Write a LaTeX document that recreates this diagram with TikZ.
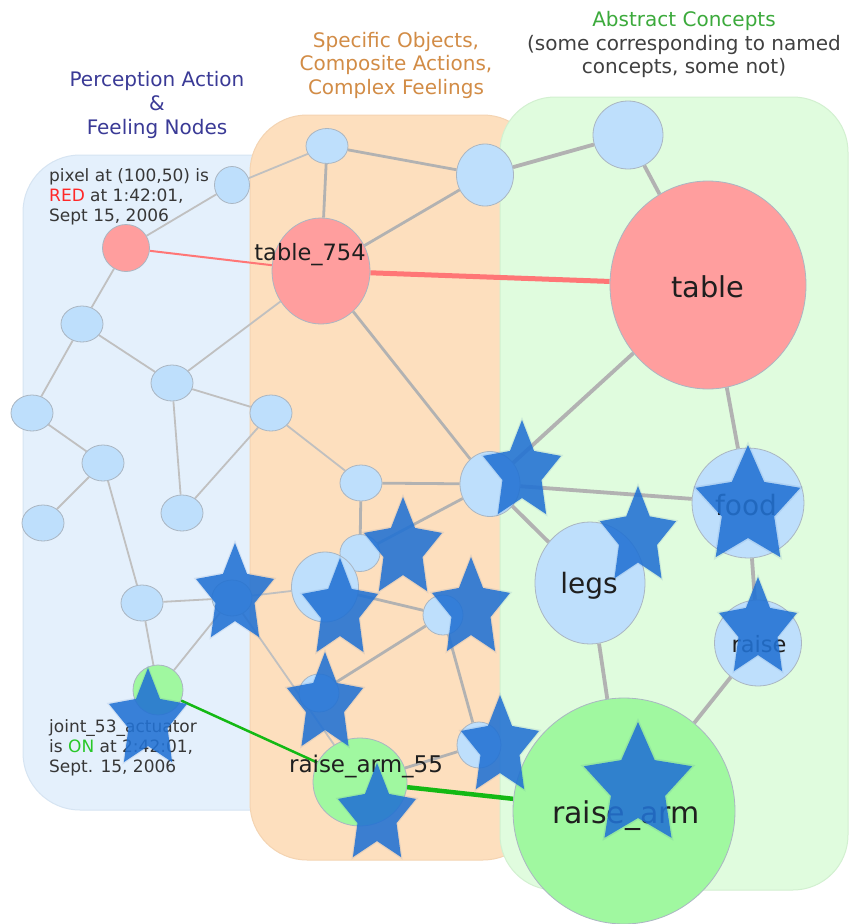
\documentclass[tikz,border=0pt]{standalone}
\usepackage{fontspec}
\setmainfont{DejaVu Sans}
\usetikzlibrary{shapes.geometric}
\pgfdeclarelayer{panels}
\pgfdeclarelayer{edges}
\pgfdeclarelayer{stars}
\pgfsetlayers{panels,edges,main,stars}
\definecolor{pblue}{RGB}{228,240,252}
\definecolor{pblueb}{RGB}{214,228,242}
\definecolor{porange}{RGB}{253,223,190}
\definecolor{porangeb}{RGB}{244,212,178}
\definecolor{pgreen}{RGB}{224,252,222}
\definecolor{pgreenb}{RGB}{210,240,208}
\definecolor{nblue}{RGB}{190,223,252}
\definecolor{nred}{RGB}{255,158,158}
\definecolor{ngreen}{RGB}{160,248,160}
\definecolor{nborder}{RGB}{170,182,194}
\definecolor{edgegrey}{RGB}{178,178,178}
\definecolor{edgelight}{RGB}{192,192,192}
\definecolor{linkred}{RGB}{255,118,118}
\definecolor{linkgreen}{RGB}{20,185,20}
\definecolor{starcol}{RGB}{34,114,212}
\definecolor{starglow}{RGB}{40,90,170}
\definecolor{tblue}{RGB}{58,58,150}
\definecolor{torange}{RGB}{210,140,70}
\definecolor{tgreen}{RGB}{60,170,60}
\definecolor{tgrey}{RGB}{64,64,64}
\definecolor{notegrey}{RGB}{55,55,55}
\definecolor{redtxt}{RGB}{255,40,40}
\definecolor{ontxt}{RGB}{40,200,40}
\begin{document}
\begin{tikzpicture}[x=1pt,y=-1pt,
  cnode/.style={ellipse, draw=nborder, line width=0.8pt, inner sep=0pt},
  bnode/.style={cnode, fill=nblue},
  rnode/.style={cnode, fill=nred},
  gnode/.style={cnode, fill=ngreen},
  sz/.style 2 args={minimum width=#1pt, minimum height=#2pt},
  thinedge/.style={draw=edgelight, line width=1.8pt},
  midedge/.style={draw=edgegrey, line width=2.8pt},
  thickedge/.style={draw=edgegrey, line width=3.8pt},
  ttl/.style={anchor=base, inner sep=0pt, font=\fontsize{20}{24}\selectfont},
  note/.style={anchor=base west, inner sep=0pt, font=\fontsize{17}{20}\selectfont, text=notegrey},
  lbl/.style={anchor=base, inner sep=0pt, text=black!88},
  pics/bstar/.style 2 args={code={
    \fill[starglow, opacity=0.10] plot[samples at={0,...,9}, variable=\k]
      ({1.06*(0.75+0.25*cos(180*\k))*#1*cos(90-36*\k)}, {-1.06*(0.75+0.25*cos(180*\k))*#2*sin(90-36*\k)}) -- cycle;
    \fill[starcol, opacity=0.87] plot[samples at={0,...,9}, variable=\k]
      ({(0.75+0.25*cos(180*\k))*#1*cos(90-36*\k)}, {-(0.75+0.25*cos(180*\k))*#2*sin(90-36*\k)}) -- cycle;
  }}
]
\useasboundingbox (0,0) rectangle (850,924);
\begin{pgfonlayer}{panels}
\fill[white] (0,0) rectangle (850,924);
\filldraw[fill=pblue, draw=pblueb, line width=1pt, rounded corners=57pt] (23,155) rectangle (330,810);
\filldraw[fill=porange, draw=porangeb, line width=1pt, rounded corners=57pt] (250,115) rectangle (540,860);
\filldraw[fill=pgreen, draw=pgreenb, line width=1pt, rounded corners=55pt] (500,97) rectangle (848,890);
\end{pgfonlayer}

% titles
\node[ttl, text=tblue] (pa1) at (157,86) {Perception Action};
\node[ttl, text=tblue] (pa2) at (157,110) {\&};
\node[ttl, text=tblue] (pa3) at (157,134) {Feeling Nodes};
\node[ttl, text=torange] (so1) at (396,47) {Specific Objects,};
\node[ttl, text=torange] (so2) at (396,70) {Composite Actions,};
\node[ttl, text=torange] (so3) at (396,94) {Complex Feelings};
\node[ttl, text=tgreen] (ac1) at (684,26) {Abstract Concepts};
\node[ttl, text=tgrey] (ac2) at (684,50) {(some corresponding to named};
\node[ttl, text=tgrey] (ac3) at (684,73) {concepts, some not)};

% perception region nodes
\node[bnode, sz={35}{37}] (n1) at (232,185) {};
\node[rnode, sz={47}{47}] (red) at (126,248) {};
\node[bnode, sz={42}{36}] (n2) at (82,324) {};
\node[bnode, sz={42}{36}] (n3) at (172,383) {};
\node[bnode, sz={42}{36}] (n4) at (32,413) {};
\node[bnode, sz={42}{36}] (n5) at (271,413) {};
\node[bnode, sz={42}{36}] (n6) at (103,463) {};
\node[bnode, sz={42}{36}] (n7) at (43,523) {};
\node[bnode, sz={42}{36}] (n8) at (182,513) {};
\node[bnode, sz={42}{36}] (n9) at (142,603) {};
\node[bnode, sz={40}{36}] (h1) at (232,598) {};
\node[gnode, sz={50}{50}] (joint) at (158,690) {};

% composite region nodes
\node[bnode, sz={42}{35}] (o1) at (327,146) {};
\node[bnode, sz={57}{62}] (o2) at (485,175) {};
\node[rnode, sz={98}{106}] (t754) at (321,271) {};
\node[bnode, sz={42}{36}] (n10) at (361,483) {};
\node[bnode, sz={60}{65}] (o3) at (490,484) {};
\node[bnode, sz={40}{37}] (o5) at (360,553) {};
\node[bnode, sz={67}{70}] (o6) at (325,587) {};
\node[bnode, sz={40}{40}] (o7) at (443,615) {};
\node[bnode, sz={40}{38}] (o8) at (319,693) {};
\node[bnode, sz={44}{46}] (o9) at (479,745) {};
\node[gnode, sz={94}{88}] (ra55) at (360,782) {};

% abstract region nodes
\node[bnode, sz={70}{68}] (g1) at (628,135) {};
\node[rnode, sz={196}{208}] (table) at (708,285) {};
\node[bnode, sz={110}{122}] (legs) at (590,583) {};
\node[bnode, sz={112}{110}] (food) at (748,503) {};
\node[bnode, sz={87}{86}] (raise) at (758,643) {};
\node[gnode, sz={222}{226}] (rarm) at (624,811) {};

% labels
\node[lbl, font=\fontsize{22.5}{24}\selectfont] (t754lbl) at (310,260) {table\_754};
\node[lbl, font=\fontsize{23}{24}\selectfont] (ra55lbl) at (366,772) {raise\_arm\_55};
\node[lbl, font=\fontsize{28.8}{30}\selectfont] (tablelbl) at (708,297) {table};
\node[lbl, font=\fontsize{28}{30}\selectfont] (legslbl) at (589,593) {legs};
\node[lbl, font=\fontsize{28}{30}\selectfont] (foodlbl) at (746,515) {food};
\node[lbl, font=\fontsize{22.5}{24}\selectfont] (raiselbl) at (759,652) {raise};
\node[lbl, font=\fontsize{30}{32}\selectfont] (rarmlbl) at (626,823) {raise\_arm};

% notes
\node[note] (px1) at (49,181) {pixel at (100,50) is};
\node[note] (px2) at (49,201) {{\color{redtxt}RED} at 1:42:01,};
\node[note] (px3) at (49,221) {Sept 15, 2006};
\node[note] (jt1) at (49,732) {joint\_53\_actuator};
\node[note] (jt2) at (49,752) {is {\color{ontxt}ON} at 2:42:01,};
\node[note] (jt3) at (49,772) {Sept. 15, 2006};

\begin{pgfonlayer}{edges}
% thin edges
\draw[thinedge] (n1) -- (o1);
\draw[thinedge] (n1) -- (red);
\draw[thinedge] (red) -- (n2);
\draw[thinedge] (n2) -- (n4);
\draw[thinedge] (n2) -- (n3);
\draw[thinedge] (n3) -- (t754);
\draw[thinedge] (n3) -- (n5);
\draw[thinedge] (n3) -- (n8);
\draw[thinedge] (n4) -- (n6);
\draw[thinedge] (n6) -- (n7);
\draw[thinedge] (n6) -- (n9);
\draw[thinedge] (n5) -- (n8);
\draw[thinedge] (n5) -- (n10);
\draw[thinedge] (n9) -- (h1);
\draw[thinedge] (joint) -- (n9);
\draw[thinedge] (joint) -- (h1);
\draw[thinedge] (h1) -- (o6);
\draw[thinedge] (h1) -- (ra55);
% medium edges
\draw[midedge] (o1) -- (o2);
\draw[midedge] (o1) -- (t754);
\draw[midedge] (o2) -- (t754);
\draw[midedge] (t754) -- (o3);
\draw[midedge] (n10) -- (o3);
\draw[midedge] (n10) -- (o5);
\draw[midedge] (o5) -- (o3);
\draw[midedge] (o6) -- (o7);
\draw[midedge] (o8) -- (o7);
\draw[midedge] (o7) -- (o9);
\draw[midedge] (o9) -- (ra55);
% thick edges
\draw[thickedge] (o2) -- (g1);
\draw[thickedge] (g1) -- (table);
\draw[thickedge] (o3) -- (table);
\draw[thickedge] (o3) -- (food);
\draw[thickedge] (o3) -- (legs);
\draw[thickedge] (table) -- (food);
\draw[thickedge] (food) -- (raise);
\draw[thickedge] (legs) -- (rarm);
\draw[thickedge] (raise) -- (rarm);
% coloured links
\draw[linkred, line width=2pt] (red) -- (t754);
\draw[linkred, line width=5pt] (t754) -- (table);
\draw[linkgreen, line width=2.5pt] (joint) -- (ra55);
\draw[linkgreen, line width=4.5pt] (ra55) -- (rarm);
\end{pgfonlayer}

\begin{pgfonlayer}{stars}
\pic at (235,595) {bstar={41}{52}};
\pic at (340,610) {bstar={40}{52}};
\pic at (403,549) {bstar={41}{52}};
\pic at (471,609) {bstar={41}{52}};
\pic at (522,472) {bstar={41}{52}};
\pic at (638,537) {bstar={40}{51}};
\pic at (748,507) {bstar={55}{62}};
\pic at (758,629) {bstar={41}{52}};
\pic at (638,786) {bstar={57}{64}};
\pic at (500,747) {bstar={41}{52}};
\pic at (325,704) {bstar={40}{52}};
\pic at (377,815) {bstar={41}{52}};
\pic at (148,720) {bstar={41}{52}};
\end{pgfonlayer}
\end{tikzpicture}
\end{document}
